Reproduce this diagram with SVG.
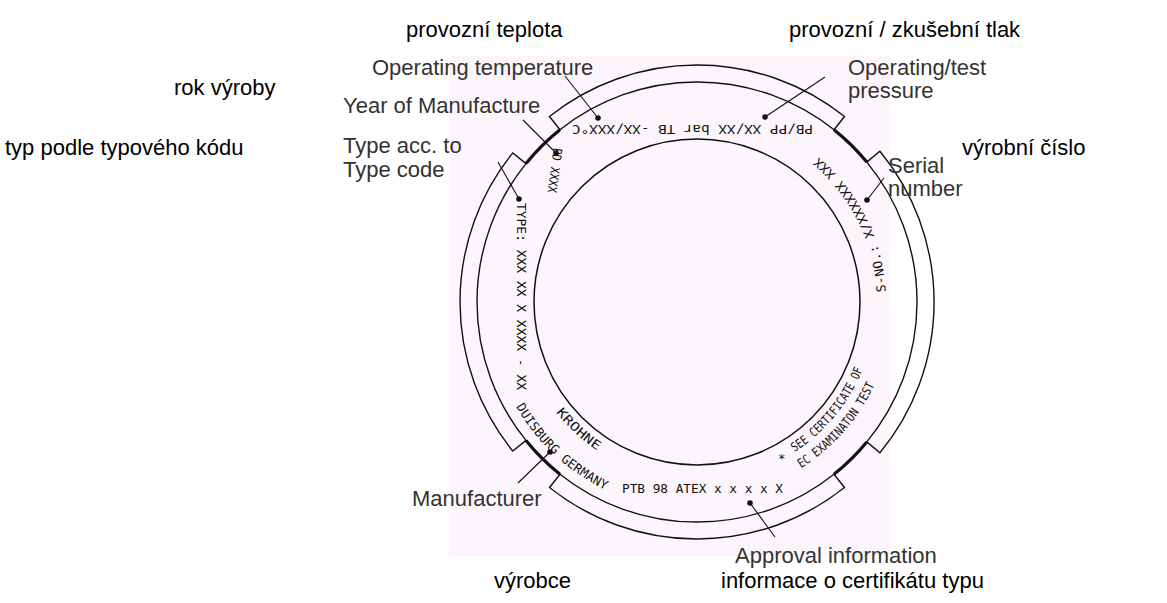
<svg xmlns="http://www.w3.org/2000/svg" width="1167" height="603" viewBox="0 0 1167 603">
<style>
.cz{font-family:"Liberation Sans",Arial,sans-serif;font-size:22px;fill:#000}
.en{font-family:"Liberation Sans",Arial,sans-serif;font-size:22px;fill:#333}
.rt{font-family:"DejaVu Sans Mono","Liberation Mono",monospace;font-size:12.5px;fill:#111}
.band{fill:none;stroke:#111;stroke-width:1.4}
.thick{fill:none;stroke:#111;stroke-width:3.2}
.lead{fill:none;stroke:#111;stroke-width:1.1}
.dot{fill:#111}
</style>
<rect x="0" y="0" width="1167" height="603" fill="#fff"/>
<rect x="449" y="56" width="441" height="500" fill="#fdf5fc"/>
<defs>
<path id="pRight" d="M 880.7 292.4 A 184 184 0 0 0 815.3 161"/>
<path id="pKrohne" d="M 559.9 409.1 A 174 174 0 0 0 607.4 451.1"/>
<path id="pDuis" d="M 520.3 404 A 204 204 0 0 0 607.6 485.4"/>
<path id="pSee" d="M 791.8 447.9 A 174 174 0 0 0 858.3 367.2"/>
<path id="pEc" d="M 798.2 464 A 191 191 0 0 0 870.1 382.7"/>
</defs>
<g id="ring">
<circle cx="697" cy="302" r="163" fill="none" stroke="#111" stroke-width="1.5"/>
<path class="band" d="M 834 129.8 L 844.5 116.5 A 237 237 0 0 0 549.5 116.5 L 560 129.8 A 220 220 0 0 1 834 129.8 Z"/>
<path class="band" d="M 526 163.6 L 512.8 152.9 A 237 237 0 0 0 512.8 451.1 L 526 440.4 A 220 220 0 0 1 526 163.6 Z"/>
<path class="band" d="M 560 474.2 L 549.5 487.5 A 237 237 0 0 0 844.5 487.5 L 834 474.2 A 220 220 0 0 1 560 474.2 Z"/>
<path class="band" d="M 866.8 441.9 L 879.9 452.8 A 237 237 0 0 0 879.9 151.2 L 866.8 162.1 A 220 220 0 0 1 866.8 441.9 Z"/>
<path class="thick" d="M 834 129.8 A 220 220 0 0 1 866.8 162.1"/>
<path class="thick" d="M 526 163.6 A 220 220 0 0 1 560 129.8"/>
<path class="thick" d="M 526 440.4 A 220 220 0 0 0 560 474.2"/>
<path class="thick" d="M 834 474.2 A 220 220 0 0 0 866.8 441.9"/>
</g>
<g id="ring-texts">
<text class="rt" x="572" y="135" textLength="241" lengthAdjust="spacingAndGlyphs" transform="rotate(180 692.5 130)">PB/PP XX/XX bar  TB -XX/XXX°C</text>
<text class="rt" x="0" y="0" dominant-baseline="central" textLength="187" lengthAdjust="spacingAndGlyphs" transform="translate(521 203) rotate(90)">TYPE: XXX XX X XXXX - XX</text>
<text class="rt" x="0" y="0" dominant-baseline="central" textLength="45" lengthAdjust="spacingAndGlyphs" transform="translate(558 148) rotate(97.6)">PD XXXX</text>
<text class="rt" x="622" y="493" textLength="161" lengthAdjust="spacingAndGlyphs">PTB 98 ATEX x x x x X</text>
<text class="rt" dominant-baseline="central"><textPath href="#pRight" textLength="151" lengthAdjust="spacingAndGlyphs">S-NO.: X/XXXXXX XXX</textPath></text>
<text class="rt" dominant-baseline="central"><textPath href="#pKrohne" textLength="55" lengthAdjust="spacingAndGlyphs">KROHNE</textPath></text>
<text class="rt" dominant-baseline="central"><textPath href="#pDuis" textLength="121" lengthAdjust="spacingAndGlyphs">DUISBURG GERMANY</textPath></text>
<text class="rt" dominant-baseline="central"><textPath href="#pSee" textLength="106" lengthAdjust="spacingAndGlyphs">SEE CERTIFICATE OF</textPath></text>
<text class="rt" dominant-baseline="central"><textPath href="#pEc" textLength="110" lengthAdjust="spacingAndGlyphs">EC EXAMINATON TEST</textPath></text>
<text class="rt" x="778" y="463" font-size="14">*</text>
</g>
<g id="connectors">
<line class="lead" x1="565" y1="76" x2="598" y2="118"/><circle class="dot" cx="598" cy="118" r="2.8"/>
<line class="lead" x1="523" y1="120" x2="556" y2="153"/><circle class="dot" cx="556" cy="153" r="2.8"/>
<line class="lead" x1="498" y1="162" x2="519" y2="199"/><circle class="dot" cx="519" cy="199" r="2.8"/>
<line class="lead" x1="825" y1="77" x2="765" y2="117"/><circle class="dot" cx="765" cy="117" r="2.8"/>
<line class="lead" x1="884" y1="178" x2="867" y2="200"/><circle class="dot" cx="867" cy="200" r="2.8"/>
<line class="lead" x1="518" y1="483" x2="550" y2="452"/><circle class="dot" cx="550" cy="452" r="2.8"/>
<line class="lead" x1="775" y1="537" x2="750" y2="503"/><circle class="dot" cx="750" cy="503" r="2.8"/>
</g>
<g id="label-op-temp"><text class="en" x="372" y="75">Operating temperature</text></g>
<g id="label-year"><text class="en" x="343" y="113">Year of Manufacture</text></g>
<g id="label-type"><text class="en" x="343" y="153">Type acc. to</text><text class="en" x="343" y="177">Type code</text></g>
<g id="label-pressure"><text class="en" x="848" y="75">Operating/test</text><text class="en" x="848" y="98">pressure</text></g>
<g id="label-serial"><text class="en" x="888" y="173">Serial</text><text class="en" x="888" y="196">number</text></g>
<g id="label-manufacturer"><text class="en" x="412" y="506">Manufacturer</text></g>
<g id="label-approval"><text class="en" x="735" y="563">Approval information</text></g>
<g id="cz-teplota"><text class="cz" x="406" y="37">provozní teplota</text></g>
<g id="cz-tlak"><text class="cz" x="789" y="37">provozní / zkušební tlak</text></g>
<g id="cz-rok"><text class="cz" x="174" y="95">rok výroby</text></g>
<g id="cz-typ"><text class="cz" x="5" y="155">typ podle typového kódu</text></g>
<g id="cz-cislo"><text class="cz" x="962" y="155">výrobní číslo</text></g>
<g id="cz-vyrobce"><text class="cz" x="494" y="588">výrobce</text></g>
<g id="cz-info"><text class="cz" x="721" y="588">informace o certifikátu typu</text></g>
</svg>
